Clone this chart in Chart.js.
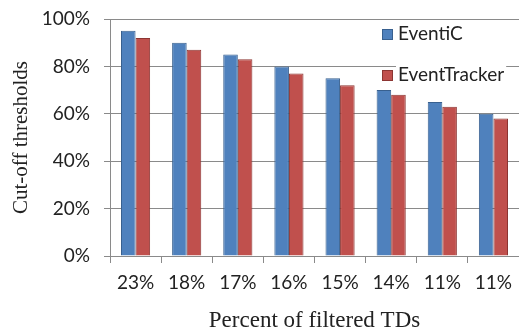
<!DOCTYPE html>
<html>
<head>
<meta charset="utf-8">
<title>Cut-off thresholds</title>
<script src="https://cdn.jsdelivr.net/npm/chart.js@4.4.1/dist/chart.umd.min.js"></script>
<style>
    html, body { margin: 0; padding: 0; background: #fff; }
    #chartContainer { display: block; }
</style>
</head>
<body>
<canvas id="chartContainer" width="519" height="332"></canvas>
<script>
// Chart data
const categories = ['23%', '18%', '17%', '16%', '15%', '14%', '11%', '11%'];
const eventiC = [95, 90, 85, 80, 75, 70, 65, 60];
const eventTracker = [92, 87, 83, 77, 72, 68, 63, 58];
const yTicks = [0, 20, 40, 60, 80, 100];

const gridColor = '#8a8a8a';

/**
 * Legend drawn over the plot area, the way the original figure has it.
 */
const insideLegend = {
    id: 'insideLegend',
    afterDatasetsDraw(chart) {
        const ctx = chart.ctx;
        const rows = [{ y: 34 }, { y: 75 }];
        ctx.save();
        ctx.font = '19px Lato';
        ctx.textBaseline = 'middle';
        chart.data.datasets.forEach((ds, i) => {
            const y = rows[i].y;
            const textWidth = ctx.measureText(ds.label).width;
            ctx.fillStyle = '#fff';
            ctx.fillRect(396, y - 11, textWidth + 4, 22);
            ctx.fillStyle = ds.backgroundColor;
            ctx.fillRect(382, y - 5, 11, 11);
            ctx.strokeStyle = ds.borderColor;
            ctx.lineWidth = 1;
            ctx.strokeRect(382.5, y - 4.5, 10, 10);
            ctx.fillStyle = '#222';
            ctx.fillText(ds.label, 398, y);
        });
        ctx.restore();
    }
};

new Chart(document.getElementById('chartContainer').getContext('2d'), {
    type: 'bar',
    data: {
        labels: categories,
        datasets: [
            {
                label: 'EventiC',
                data: eventiC,
                backgroundColor: '#4f81bd',
                borderColor: '#38608f',
                borderWidth: 1,
            },
            {
                label: 'EventTracker',
                data: eventTracker,
                backgroundColor: '#c0504d',
                borderColor: '#8c3532',
                borderWidth: 1,
            },
        ],
    },
    options: {
        responsive: false,
        animation: false,
        devicePixelRatio: 1,
        layout: { padding: { top: 19, right: 0, bottom: 0, left: 0 } },
        datasets: { bar: { categoryPercentage: 0.57, barPercentage: 1 } },
        plugins: {
            legend: { display: false },
            tooltip: { enabled: false },
        },
        scales: {
            x: {
                afterFit: (scale) => {
                    scale.height = 76;
                    scale.paddingLeft = 0;
                    scale.paddingRight = 0;
                },
                grid: {
                    offset: true,
                    drawOnChartArea: false,
                    drawTicks: true,
                    tickLength: 7,
                    color: gridColor,
                },
                border: { color: gridColor, width: 1 },
                ticks: {
                    color: '#222',
                    font: { family: 'Lato', size: 19 },
                    padding: 8,
                    maxRotation: 0,
                },
                title: {
                    display: true,
                    text: 'Percent of filtered TDs',
                    color: '#222',
                    font: { family: 'Liberation Serif', size: 23, lineHeight: 1 },
                    padding: { top: -4, bottom: 0 },
                },
            },
            y: {
                min: 0,
                max: 100,
                afterFit: (scale) => {
                    scale.width = 110;
                    scale.paddingTop = 0;
                    scale.paddingBottom = 0;
                },
                afterBuildTicks: (scale) => { scale.ticks = yTicks.map(v => ({ value: v })); },
                grid: {
                    color: gridColor,
                    tickLength: 6,
                },
                border: { color: gridColor, width: 1 },
                ticks: {
                    color: '#222',
                    font: { family: 'Lato', size: 19 },
                    padding: 14,
                    callback: (v) => v + '%',
                },
                title: {
                    display: true,
                    text: 'Cut-off thresholds',
                    color: '#222',
                    font: { family: 'Liberation Serif', size: 21, lineHeight: 1 },
                    padding: { top: 11, bottom: 0 },
                },
            },
        },
    },
    plugins: [insideLegend],
});
</script>
</body>
</html>
